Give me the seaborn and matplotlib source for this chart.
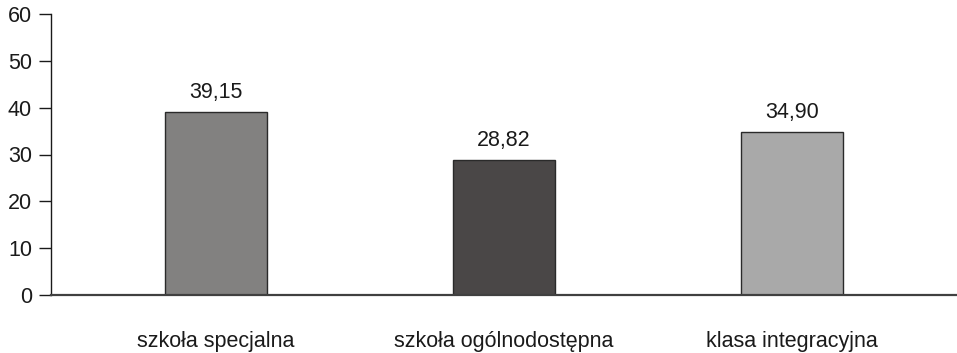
import matplotlib
matplotlib.use("Agg")
import matplotlib.pyplot as plt
import seaborn as sns
import pandas as pd

categories = ["szkoła specjalna", "szkoła ogólnodostępna", "klasa integracyjna"]
values = [39.15, 28.82, 34.90]
value_labels = ["39,15", "28,82", "34,90"]
bar_colors = ["#828180", "#4b4746", "#a9a9a9"]
y_ticks = [0, 10, 20, 30, 40, 50, 60]

sns.set_theme(style="white")
plt.rcParams["font.family"] = ["Liberation Sans", "DejaVu Sans"]

df = pd.DataFrame({"kategoria": categories, "wartosc": values})

fig = plt.figure(figsize=(9.57, 3.53), dpi=100)
ax = fig.add_axes([51 / 957, 58 / 353, 906 / 957, 281 / 353])

sns.barplot(data=df, x="kategoria", y="wartosc", hue="kategoria",
            palette=bar_colors, legend=False, width=0.355,
            edgecolor="#2a2a2a", linewidth=1.0, ax=ax)

for i, (v, lab) in enumerate(zip(values, value_labels)):
    ax.annotate(lab, xy=(i, v), xytext=(0, 6.5), textcoords="offset points",
                ha="center", va="bottom", fontsize=15.5, color="#1a1a1a")

ax.set_xlim(-0.573, 2.573)
ax.set_ylim(0, 60)
ax.set_yticks(y_ticks)
ax.set_xlabel("")
ax.set_ylabel("")

for s in ["top", "right"]:
    ax.spines[s].set_visible(False)
ax.spines["left"].set_color("#1a1a1a")
ax.spines["left"].set_linewidth(1.0)
ax.spines["bottom"].set_color("#404040")
ax.spines["bottom"].set_linewidth(1.6)

ax.tick_params(axis="y", direction="out", length=8.6, width=1.0,
               color="#1a1a1a", pad=5, labelsize=15.5, labelcolor="#1a1a1a", left=True)
ax.tick_params(axis="x", length=0, pad=26, labelsize=15.5, labelcolor="#1a1a1a")

fig.savefig("out.png", dpi=100)
